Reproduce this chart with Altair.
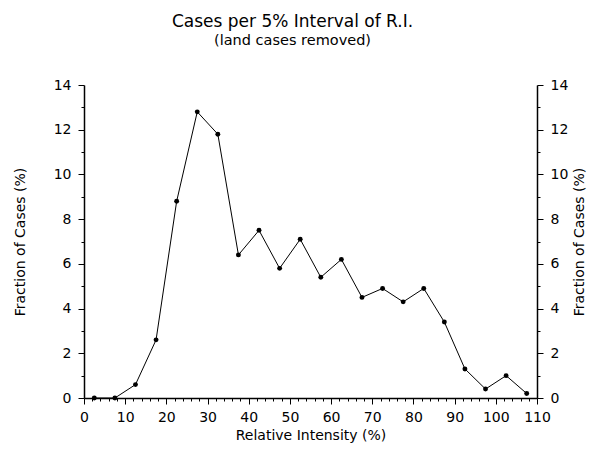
import altair as alt
import pandas as pd

# Data
intensity = [2.5, 7.5, 12.5, 17.5, 22.5, 27.5, 32.5, 37.5, 42.5, 47.5, 52.5,
             57.5, 62.5, 67.5, 72.5, 77.5, 82.5, 87.5, 92.5, 97.5, 102.5, 107.5]
fraction = [0, 0, 0.6, 2.6, 8.8, 12.8, 11.8, 6.4, 7.5, 5.8, 7.1,
            5.4, 6.2, 4.5, 4.9, 4.3, 4.9, 3.4, 1.3, 0.4, 1.0, 0.2]
x_ticks = list(range(0, 111, 2))
y_ticks = list(range(0, 15))

df = pd.DataFrame({"ri": intensity, "frac": fraction})

FONT = "DejaVu Sans"
xscale = alt.Scale(domain=[0, 110], nice=False, zero=False)
yscale = alt.Scale(domain=[0, 14], nice=False)

x_axis = alt.Axis(
    values=x_ticks,
    labelExpr="datum.value % 10 === 0 ? datum.label : ''",
    tickSize={"condition": {"test": "datum.value % 10 === 0", "value": 6}, "value": 3},
    title="Relative Intensity (%)",
    orient="bottom",
    labelFlush=False,
    titlePadding=4,
    labelPadding=6,
)
y_axis_left = alt.Axis(
    values=y_ticks,
    labelExpr="datum.value % 2 === 0 ? datum.label : ''",
    tickSize={"condition": {"test": "datum.value % 2 === 0", "value": 6}, "value": 3},
    title="Fraction of Cases (%)",
    orient="left",
    labelFlush=False,
    labelPadding=7,
    titlePadding=26,
)
y_axis_right = alt.Axis(
    values=y_ticks,
    labelExpr="datum.value % 2 === 0 ? datum.label : ''",
    tickSize={"condition": {"test": "datum.value % 2 === 0", "value": 6}, "value": 3},
    title="Fraction of Cases (%)",
    orient="right",
    titleAngle=270,
    labelFlush=False,
    labelPadding=7,
    titlePadding=19,
)

line = alt.Chart(df).mark_line(color="black", strokeWidth=1).encode(
    x=alt.X("ri:Q", scale=xscale, axis=x_axis),
    y=alt.Y("frac:Q", scale=yscale, axis=y_axis_left),
)
points = alt.Chart(df).mark_point(filled=True, color="black", size=24, opacity=1).encode(
    x=alt.X("ri:Q", scale=xscale, axis=x_axis),
    y=alt.Y("frac:Q", scale=yscale, axis=y_axis_right),
)

chart = (
    alt.layer(line, points)
    .resolve_axis(y="independent")
    .properties(
        width=453,
        height=313,
        autosize=alt.AutoSizeParams(type="none"),
        padding={"left": 76, "top": 77, "right": 55, "bottom": 45},
        title=alt.TitleParams(
            text="Cases per 5% Interval of R.I.",
            subtitle="(land cases removed)",
            anchor="middle",
            dx=-18,
            offset=30,
            font=FONT,
            fontSize=17,
            fontWeight="normal",
            color="black",
            subtitleFont=FONT,
            subtitleFontSize=14.5,
            subtitleColor="black",
            subtitlePadding=3,
        ),
    )
    .configure_view(stroke=None)
    .configure_axis(
        grid=False,
        domainColor="black",
        domainWidth=1.5,
        tickColor="black",
        tickWidth=1,
        labelColor="black",
        titleColor="black",
        labelFont=FONT,
        titleFont=FONT,
        labelFontSize=14,
        titleFontSize=14,
        titleFontWeight="normal",
    )
)

chart.save("out.html", embed_options={"renderer": "svg", "actions": False})
